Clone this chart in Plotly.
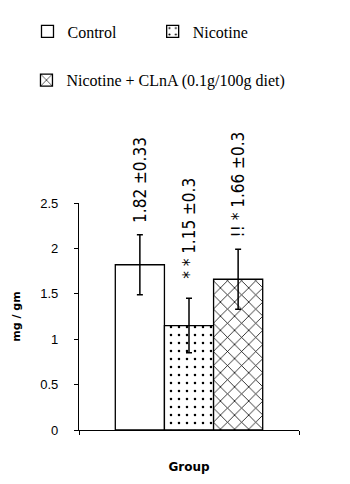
import plotly.graph_objects as go

groups = ["Control", "Nicotine", "Nicotine + CLnA (0.1g/100g diet)"]
means = [1.82, 1.15, 1.66]
errors = [0.33, 0.30, 0.33]
labels = ["1.82 ±0.33", "* * 1.15 ±0.3", "!! * 1.66 ±0.3"]
y_ticks = [0, 0.5, 1, 1.5, 2, 2.5]
y_ticktext = ["0", "0.5", "1", "1.5", "2", "2.5"]

patterns = [
    dict(shape="", fillmode="replace"),
    dict(shape=".", size=8, solidity=0.08, fgcolor="black", bgcolor="white", fillmode="replace"),
    dict(shape="x", size=10, solidity=0.15, fgcolor="black", bgcolor="white", fillmode="replace"),
]
legends = ["legend", "legend2", "legend3"]
pads = [8, 9, 8]

fig = go.Figure()
for i, g in enumerate(groups):
    fig.add_trace(go.Bar(
        x=["Group"], y=[means[i]], name=g,
        marker=dict(color="white", line=dict(color="black", width=1.3), pattern=patterns[i]),
        error_y=dict(type="data", array=[errors[i]], color="black", thickness=1.5, width=3),
        text=["\u00a0" * pads[i] + labels[i]], textposition="outside", textangle=-90,
        constraintext="none", cliponaxis=False,
        textfont=dict(family="DejaVu Sans Condensed, Liberation Sans Narrow, Arial, sans-serif", size=17, color="black"),
        legend=legends[i],
    ))

legend_font = dict(family="Liberation Serif, Times New Roman, serif", size=16, color="black")
leg_common = dict(orientation="h", xref="container", yref="container", xanchor="left", yanchor="top",
                  font=legend_font, bgcolor="rgba(0,0,0,0)")
fig.update_layout(
    width=342, height=476,
    margin=dict(l=71, r=51, t=195, b=54),
    plot_bgcolor="white", paper_bgcolor="white",
    barmode="group", bargap=0.33, bargroupgap=0,
    showlegend=True,
    legend=dict(leg_common, x=0.057, y=0.9866),
    legend2=dict(leg_common, x=0.423, y=0.9866),
    legend3=dict(leg_common, x=0.054, y=0.884),
    xaxis=dict(showticklabels=False, showline=True, linecolor="black", linewidth=1.3,
               ticks="outside", tickson="boundaries", ticklen=4, tickcolor="black",
               showgrid=False, zeroline=False, automargin=False,
               title=dict(text="<b>Group</b>", font=dict(family="DejaVu Sans", size=12, color="black"), standoff=32)),
    yaxis=dict(range=[0, 2.5], tickvals=y_ticks, ticktext=y_ticktext, showline=True, linecolor="black",
               linewidth=1.3, ticks="outside", ticklen=4, tickcolor="black", showgrid=False, zeroline=False,
               ticklabelstandoff=13, automargin=False,
               tickfont=dict(family="Liberation Sans, Arial, sans-serif", size=13, color="black"),
               title=dict(text="<b>mg / gm</b>", font=dict(family="DejaVu Sans", size=11, color="black"), standoff=17)),
)
fig.write_html("out.html")
